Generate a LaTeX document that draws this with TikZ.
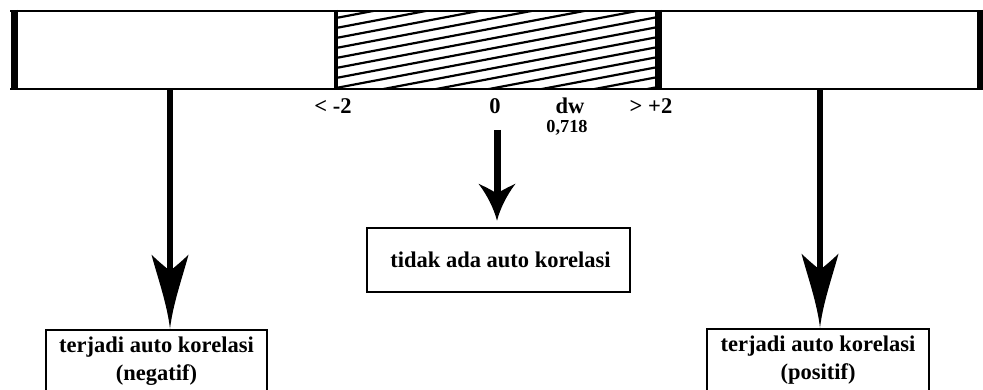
\documentclass[tikz,border=0pt]{standalone}
\usepackage{fontspec}
\setmainfont{Liberation Serif}
\begin{document}
\begin{tikzpicture}[x=1pt,y=-1pt,
  lbl/.style={font=\fontsize{22.5}{26}\selectfont\bfseries, inner sep=0pt},
  smalllbl/.style={font=\fontsize{18.3}{21}\selectfont\bfseries, inner sep=0pt},
  outbox/.style={draw, line width=2.5pt, align=center, inner sep=0pt,
    font=\fontsize{22.5}{28.5}\selectfont\bfseries},
  shaft/.style={line width=6.5pt},
  longhead/.pic={\fill (0,0) .. controls (-3,-25) and (-12,-50) .. (-18.5,-74)
      .. controls (-10,-66) and (-4,-61) .. (0,-58)
      .. controls (4,-61) and (10,-66) .. (18.5,-74)
      .. controls (12,-50) and (3,-25) .. (0,0) -- cycle;},
  shorthead/.pic={\fill (0,0) .. controls (-3,-12) and (-10,-26) .. (-18.5,-37)
      .. controls (-10,-33) and (-4,-30) .. (0,-27)
      .. controls (4,-30) and (10,-33) .. (18.5,-37)
      .. controls (10,-26) and (3,-12) .. (0,0) -- cycle;},
  hatchline/.style={line width=2.2pt},
  thinedge/.style={line width=2.2pt},
  thickedge/.style={line width=7pt}
]
\useasboundingbox (0,0) rectangle (983,390);
\clip (0,0) rectangle (983,390);
\fill[white] (0,0) rectangle (983,390);

% hatched middle zone
\begin{scope}
  \clip (336,11) rectangle (658,89);
  \foreach \k in {-10,...,20} {
    \draw[hatchline] (330,{18+10*\k+0.19*6}) -- (665,{18+10*\k-0.19*328});
  }
\end{scope}

% bar outline
\draw[thinedge] (10,11) -- (983,11);
\draw[thinedge] (10,89) -- (983,89);
\draw[thickedge] (14,10) -- (14,90);
\draw[line width=6pt] (980,10) -- (980,90);
\draw[line width=3.5pt] (336,10) -- (336,90);
\draw[thickedge] (658.5,10) -- (658.5,90);

% labels under bar
\node[lbl] (lm2) at (333,106) {< -2};
\node[lbl] (l0) at (495,106) {0};
\node[lbl] (ldw) at (570,106) {dw};
\node[lbl] (lp2) at (651,106) {> +2};
\node[smalllbl] (lval) at (567,128) {0,718};

% result boxes
\node[outbox, minimum width=221pt, minimum height=62pt] (lbox) at (156.5,361)
  {terjadi auto korelasi\\(negatif)};
\node[outbox, minimum width=263pt, minimum height=64pt] (cbox) at (498.5,260)
  {\hspace*{4pt}tidak ada auto korelasi};
\node[outbox, minimum width=222pt, minimum height=62pt] (rbox) at (818,360)
  {terjadi auto korelasi\\(positif)};

% connectors
\coordinate (la) at (170,89);
\coordinate (ltip) at (la |- lbox.north);
\draw[shaft] (la) -- ([yshift=40pt]ltip);
\pic at (ltip) {longhead};

\coordinate (ra) at (820,89);
\coordinate (rtip) at (ra |- rbox.north);
\draw[shaft] (ra) -- ([yshift=40pt]rtip);
\pic at (rtip) {longhead};

\coordinate (ca) at (497,130);
\coordinate (ctip) at ([yshift=6pt]ca |- cbox.north);
\draw[line width=7pt] (ca) -- ([yshift=20pt]ctip);
\pic at (ctip) {shorthead};
\end{tikzpicture}
\end{document}
